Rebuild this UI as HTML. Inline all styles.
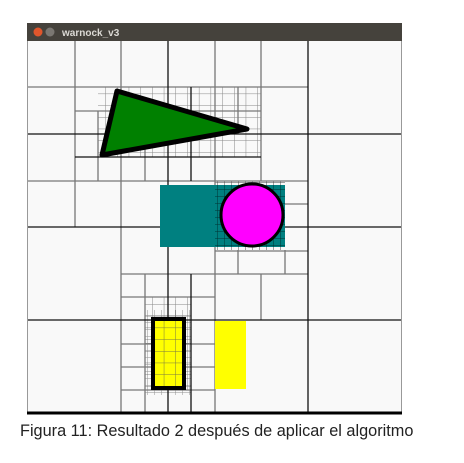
<!DOCTYPE html>
<html><head><meta charset="utf-8"><style>
html,body{margin:0;padding:0;background:#fff;width:464px;height:463px;overflow:hidden}
#cap{position:absolute;left:20px;top:422px;font:16.3px "Liberation Sans",sans-serif;color:#222;white-space:nowrap}
</style></head><body>
<svg width="464" height="463" style="position:absolute;left:0;top:0">
<defs>
<pattern id="fg" width="7" height="7" patternUnits="userSpaceOnUse"><path d="M0 0H7M0 0V7" stroke="#000" stroke-width="1" fill="none"/></pattern>
<pattern id="fg2" width="11.7" height="11.7" patternUnits="userSpaceOnUse"><path d="M0 0H11.7M0 0V11.7" stroke="#555" stroke-width="1" fill="none"/></pattern>
</defs>
<rect x="27" y="23" width="375" height="18" fill="#45423c"/>
<circle cx="38" cy="32" r="4.5" fill="#e0562c"/>
<circle cx="50" cy="32" r="4.5" fill="#7a7772"/>
<text x="62" y="36" font-family="Liberation Sans,sans-serif" font-size="10" font-weight="bold" fill="#dcdad5">warnock_v3</text>
<rect x="27" y="41" width="375" height="373" fill="#f9f9f9"/>
<line x1="27.5" y1="41" x2="27.5" y2="414" stroke="#999"/>
<line x1="401.5" y1="41" x2="401.5" y2="414" stroke="#999"/>
<g opacity="0.7">
<rect x="98" y="87" width="163" height="70" fill="url(#fg2)"/>
<rect x="215" y="181" width="70" height="69" fill="url(#fg)"/>
<rect x="145" y="297" width="46" height="93" fill="url(#fg2)"/>
<rect x="145" y="310" width="46" height="85" fill="url(#fg)" opacity="0.6"/>
</g>
<g stroke-width="1.3" fill="none">
<path stroke="#777" d="M28 87H308M75 111H261M28 181H308M121 274H308M121 297H215M121 344H215M121 367H215M121 390H215M215 251H308M285 204H308M75 41V227M121 41V413M215 41V413M261 41V181M261 274V320M98 111V181M145 111V181M145 274V413M238 87V134M238 250V274M285 250V274"/>
<path stroke="#111" d="M28 134H401M75 157H261M28 227H401M28 320H401M168 41V413M308 41V413M191 87V181M191 274V413"/>
<path stroke="#000" stroke-width="3" d="M27 413H402"/>
</g>
<polygon points="117,91 247,129 102,155" fill="#008000" stroke="#000" stroke-width="5" stroke-linejoin="round"/>
<rect x="160" y="185" width="125" height="62" fill="#008080"/>
<rect x="215" y="185" width="70" height="62" fill="url(#fg)" opacity="0.6"/>
<circle cx="252" cy="215" r="31" fill="#ff00ff" stroke="#000" stroke-width="3"/>
<rect x="153" y="319" width="31" height="69" fill="#ffff00" stroke="#000" stroke-width="4"/>
<rect x="155" y="321" width="27" height="65" fill="url(#fg2)" opacity="0.8"/>
<rect x="215" y="321" width="31" height="68" fill="#ffff00"/>
</svg>
<div id="cap">Figura 11: Resultado 2 después de aplicar el algoritmo</div>
</body></html>
